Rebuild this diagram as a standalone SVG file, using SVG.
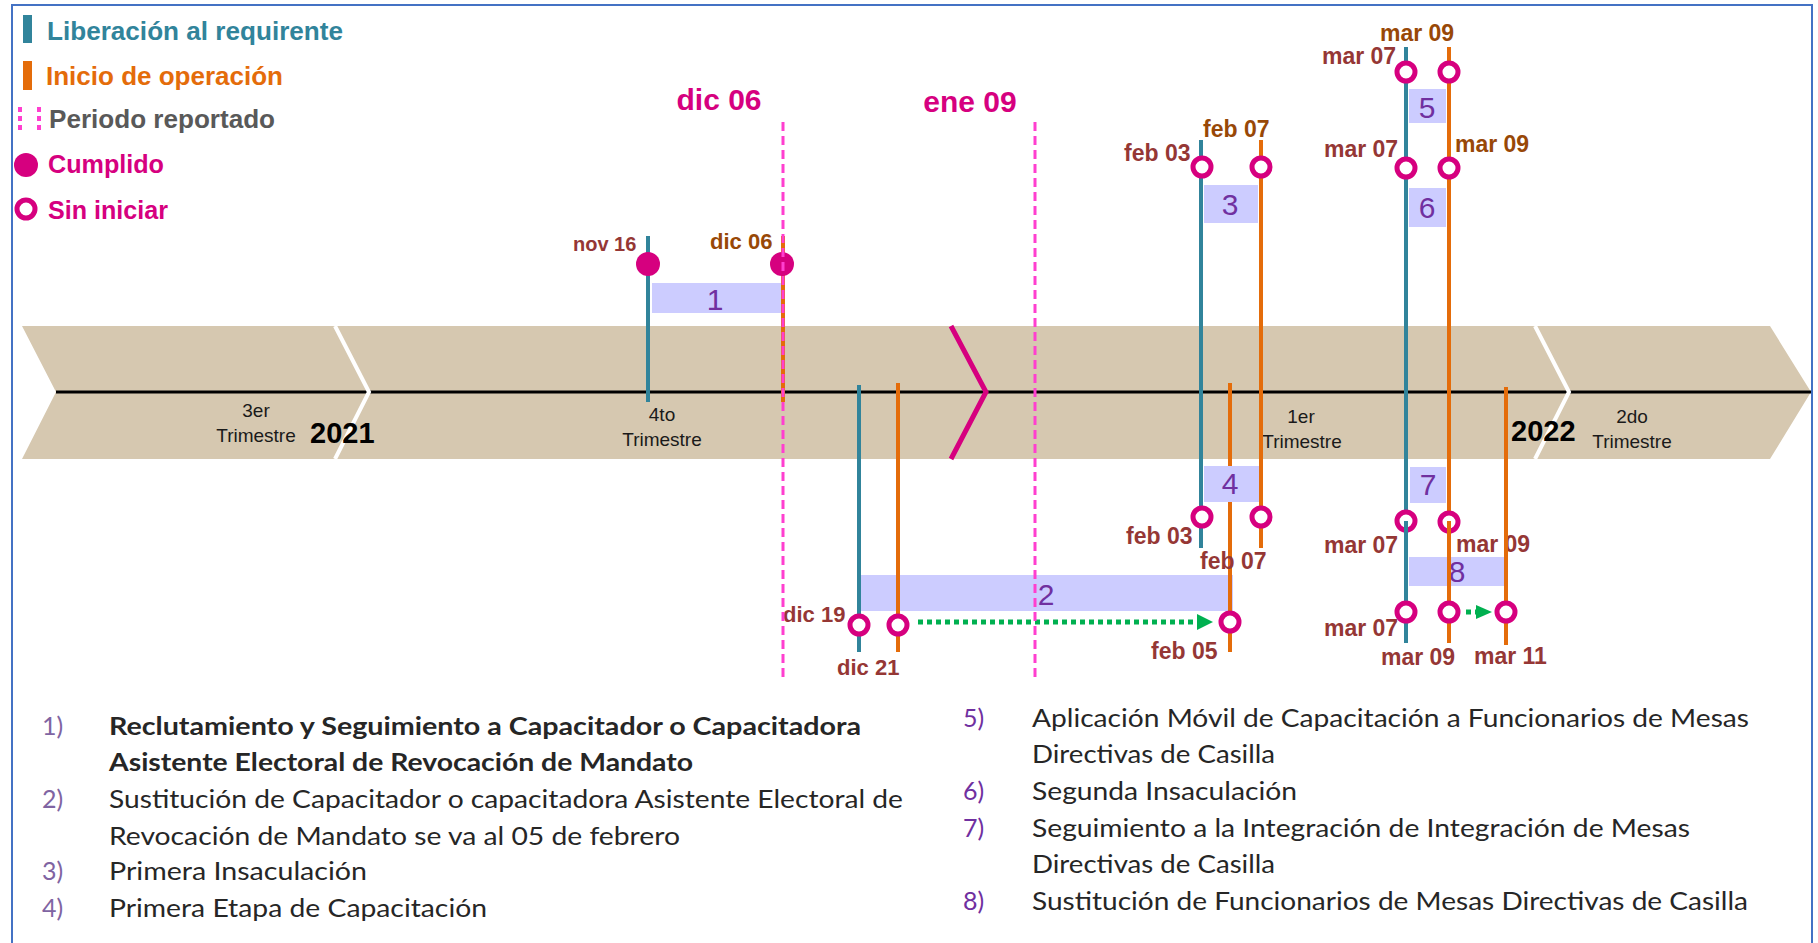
<svg xmlns="http://www.w3.org/2000/svg" width="1818" height="943" viewBox="0 0 1818 943">
<defs>
<style>
.lbl{font-family:"Liberation Sans",Arial,sans-serif;font-weight:bold;font-size:23px}
.rb{fill:#953735}
.ob{fill:#984807}
.teal{stroke:#31849B;stroke-width:4}
.orng{stroke:#E46C0A;stroke-width:4}
.open{fill:#fff;stroke:#D6007F;stroke-width:5}
.full{fill:#D6007F}
.bar{fill:#CCCCFF}
.num{font-family:"Liberation Sans",Arial,sans-serif;font-size:30px;fill:#7030A0;text-anchor:middle}
.per{stroke:#FF3FCF;stroke-width:3;stroke-dasharray:9 5;fill:none}
.tri{font-family:"Liberation Sans",Arial,sans-serif;font-size:19px;fill:#1a1a1a;text-anchor:middle}
.yr{font-family:"Liberation Sans",Arial,sans-serif;font-size:29px;font-weight:bold;fill:#000}
.leg{font-family:"Liberation Sans",Arial,sans-serif;font-weight:bold;font-size:25px}
.big{font-family:"Liberation Sans",Arial,sans-serif;font-weight:bold;font-size:30px;fill:#D6007F;text-anchor:middle}
.desc{font-family:Lato,"Liberation Sans",sans-serif;font-size:25px;fill:#262626}
.dn{font-family:Lato,"Liberation Sans",sans-serif;font-size:25px}
.dot{stroke:#00B050;stroke-width:5;stroke-dasharray:5 4;fill:none}
</style>
</defs>
<rect width="1818" height="943" fill="#fff"/>
<path d="M12,943 V5 H1812 V943" fill="none" stroke="#4472C4" stroke-width="2"/>

<g id="legend">
  <rect x="23" y="15" width="9" height="28" fill="#31849B"/>
  <text class="leg" x="47" y="40" fill="#31849B" textLength="296" lengthAdjust="spacingAndGlyphs">Liberación  al requirente</text>
  <rect x="23" y="61" width="9" height="29" fill="#E46C0A"/>
  <text class="leg" x="46" y="85" fill="#E46C0A" textLength="237" lengthAdjust="spacingAndGlyphs">Inicio  de operación</text>
  <line x1="20" y1="107" x2="20" y2="131" stroke="#FF3FCF" stroke-width="4" stroke-dasharray="5 4"/>
  <line x1="39" y1="107" x2="39" y2="131" stroke="#FF3FCF" stroke-width="4" stroke-dasharray="5 4"/>
  <text class="leg" x="49" y="128" fill="#595959" textLength="226" lengthAdjust="spacingAndGlyphs">Periodo reportado</text>
  <circle cx="26" cy="165" r="12" class="full"/>
  <text class="leg" x="48" y="173" fill="#D6007F" textLength="116" lengthAdjust="spacingAndGlyphs">Cumplido</text>
  <circle cx="26" cy="209" r="9" class="open"/>
  <text class="leg" x="48" y="219" fill="#D6007F" textLength="120" lengthAdjust="spacingAndGlyphs">Sin iniciar</text>
</g>

<g id="timeline">
  <polygon points="22,326 1770,326 1811,392 1770,459 22,459 56,392" fill="#D6C8B0"/>
  <line x1="56" y1="392" x2="1811" y2="392" stroke="#000" stroke-width="3"/>
  <polyline points="335,326 369,392 335,459" fill="none" stroke="#fff" stroke-width="4"/>
  <polyline points="1535,326 1569,392 1535,459" fill="none" stroke="#fff" stroke-width="4"/>
  <polyline points="951,326 986,392 951,459" fill="none" stroke="#D6007F" stroke-width="5"/>
  <text class="tri" x="256" y="417">3er</text>
  <text class="tri" x="256" y="442">Trimestre</text>
  <text class="yr" x="310" y="443">2021</text>
  <text class="tri" x="662" y="421">4to</text>
  <text class="tri" x="662" y="446">Trimestre</text>
  <text class="tri" x="1301" y="423">1er</text>
  <text class="tri" x="1302" y="448">Trimestre</text>
  <text class="yr" x="1511" y="441">2022</text>
  <text class="tri" x="1632" y="423">2do</text>
  <text class="tri" x="1632" y="448">Trimestre</text>
</g>

<g id="event1">
  <rect class="bar" x="652" y="283" width="129" height="30"/>
  <text class="num" x="715" y="310">1</text>
  <line class="teal" x1="648" y1="236" x2="648" y2="402"/>
  <line class="orng" x1="783" y1="236" x2="783" y2="402"/>
  <circle cx="648" cy="264" r="12" class="full"/>
  <circle cx="782" cy="264" r="12" class="full"/>
  <text class="lbl rb" x="573" y="251" style="font-size:20px">nov 16</text>
  <text class="lbl ob" x="710" y="249" style="font-size:22px">dic 06</text>
</g>

<g id="event2">
  <rect class="bar" x="861" y="575" width="372" height="36"/>
  <text class="num" x="1046" y="605">2</text>
  <line class="teal" x1="859" y1="385" x2="859" y2="652"/>
  <line class="orng" x1="898" y1="383" x2="898" y2="652"/>
  <line class="orng" x1="1230" y1="383" x2="1230" y2="652"/>
  <circle cx="859" cy="625" r="9" class="open"/>
  <circle cx="898" cy="625" r="9" class="open"/>
  <circle cx="1230" cy="622" r="9" class="open"/>
  <text class="lbl rb" x="783" y="622" style="font-size:22px">dic 19</text>
  <text class="lbl rb" x="837" y="675" style="font-size:22px">dic 21</text>
  <text class="lbl rb" x="1151" y="659">feb 05</text>
</g>

<g id="event3">
  <rect class="bar" x="1204" y="185" width="54" height="38"/>
  <text class="num" x="1230" y="215">3</text>
  <line class="teal" x1="1201" y1="140" x2="1201" y2="392"/>
  <line class="orng" x1="1261" y1="140" x2="1261" y2="392"/>
  <circle cx="1202" cy="167" r="9" class="open"/>
  <circle cx="1261" cy="167" r="9" class="open"/>
  <text class="lbl rb" x="1124" y="161">feb 03</text>
  <text class="lbl ob" x="1203" y="137">feb 07</text>
</g>

<g id="event4">
  <rect class="bar" x="1204" y="466" width="55" height="36"/>
  <text class="num" x="1230" y="494">4</text>
  <line class="teal" x1="1201" y1="390" x2="1201" y2="548"/>
  <line class="orng" x1="1261" y1="390" x2="1261" y2="548"/>
  <circle cx="1202" cy="517" r="9" class="open"/>
  <circle cx="1261" cy="517" r="9" class="open"/>
  <text class="lbl rb" x="1126" y="544">feb 03</text>
  <text class="lbl rb" x="1200" y="569">feb 07</text>
</g>

<g id="event5">
  <rect class="bar" x="1409" y="89" width="37" height="34"/>
  <text class="num" x="1427" y="118">5</text>
  <line class="teal" x1="1406" y1="47" x2="1406" y2="170"/>
  <line class="orng" x1="1449" y1="47" x2="1449" y2="170"/>
  <circle cx="1406" cy="72" r="9" class="open"/>
  <circle cx="1449" cy="72" r="9" class="open"/>
  <text class="lbl ob" x="1380" y="41">mar 09</text>
  <text class="lbl rb" x="1322" y="64">mar 07</text>
</g>

<g id="event6">
  <rect class="bar" x="1409" y="188" width="37" height="39"/>
  <text class="num" x="1427" y="218">6</text>
  <line class="teal" x1="1406" y1="168" x2="1406" y2="394"/>
  <line class="orng" x1="1449" y1="168" x2="1449" y2="394"/>
  <circle cx="1406" cy="168" r="9" class="open"/>
  <circle cx="1449" cy="168" r="9" class="open"/>
  <text class="lbl rb" x="1324" y="157">mar 07</text>
  <text class="lbl ob" x="1455" y="152">mar 09</text>
</g>

<g id="event7">
  <rect class="bar" x="1410" y="467" width="36" height="36"/>
  <text class="num" x="1428" y="495">7</text>
  <line class="teal" x1="1406" y1="390" x2="1406" y2="524"/>
  <line class="orng" x1="1449" y1="390" x2="1449" y2="524"/>
  <circle cx="1406" cy="521" r="9" class="open"/>
  <circle cx="1449" cy="522" r="9" class="open"/>
  <text class="lbl rb" x="1324" y="553">mar 07</text>
  <text class="lbl rb" x="1456" y="552">mar 09</text>
</g>

<g id="event8">
  <rect class="bar" x="1409" y="557" width="95" height="29"/>
  <text class="num" x="1457" y="582">8</text>
  <line class="teal" x1="1406" y1="521" x2="1406" y2="643"/>
  <line class="orng" x1="1449" y1="521" x2="1449" y2="643"/>
  <line class="orng" x1="1506" y1="387" x2="1506" y2="645"/>
  <circle cx="1406" cy="612" r="9" class="open"/>
  <circle cx="1449" cy="612" r="9" class="open"/>
  <circle cx="1506" cy="612" r="9" class="open"/>
  <text class="lbl rb" x="1324" y="636">mar 07</text>
  <text class="lbl rb" x="1381" y="665">mar 09</text>
  <text class="lbl rb" x="1474" y="664">mar 11</text>
</g>

<g id="connectors">
  <line class="dot" x1="918" y1="622" x2="1196" y2="622"/>
  <polygon points="1197,614 1213,622 1197,630" fill="#00B050"/>
  <line class="dot" x1="1466" y1="612" x2="1476" y2="612"/>
  <polygon points="1476,605 1492,612 1476,619" fill="#00B050"/>
</g>

<g id="period">
  <line class="per" x1="783" y1="122" x2="783" y2="680"/>
  <line class="per" x1="1035" y1="122" x2="1035" y2="680"/>
  <text class="big" x="719" y="110">dic 06</text>
  <text class="big" x="970" y="112">ene 09</text>
</g>

<g id="descriptions">
  <text class="dn" x="42" y="735" fill="#8064A2">1)</text>
  <text class="desc" x="109" y="735" font-weight="bold" textLength="752" lengthAdjust="spacingAndGlyphs">Reclutamiento y Seguimiento a  Capacitador o Capacitadora</text>
  <text class="desc" x="109" y="771" font-weight="bold" textLength="584" lengthAdjust="spacingAndGlyphs">Asistente Electoral de Revocación de Mandato</text>
  <text class="dn" x="42" y="808" fill="#8064A2">2)</text>
  <text class="desc" x="109" y="808" textLength="794" lengthAdjust="spacingAndGlyphs">Sustitución de Capacitador o capacitadora Asistente Electoral de</text>
  <text class="desc" x="109" y="845" textLength="571" lengthAdjust="spacingAndGlyphs">Revocación de Mandato se va al 05 de febrero</text>
  <text class="dn" x="42" y="880" fill="#8064A2">3)</text>
  <text class="desc" x="109" y="880" textLength="258" lengthAdjust="spacingAndGlyphs">Primera Insaculación</text>
  <text class="dn" x="42" y="917" fill="#8064A2">4)</text>
  <text class="desc" x="109" y="917" textLength="378" lengthAdjust="spacingAndGlyphs">Primera Etapa de Capacitación</text>

  <text class="dn" x="963" y="727" fill="#7030A0">5)</text>
  <text class="desc" x="1032" y="727" textLength="717" lengthAdjust="spacingAndGlyphs">Aplicación Móvil de Capacitación a Funcionarios de Mesas</text>
  <text class="desc" x="1032" y="763" textLength="243" lengthAdjust="spacingAndGlyphs">Directivas de Casilla</text>
  <text class="dn" x="963" y="800" fill="#7030A0">6)</text>
  <text class="desc" x="1032" y="800" textLength="265" lengthAdjust="spacingAndGlyphs">Segunda Insaculación</text>
  <text class="dn" x="963" y="837" fill="#7030A0">7)</text>
  <text class="desc" x="1032" y="837" textLength="658" lengthAdjust="spacingAndGlyphs">Seguimiento a la Integración de Integración de Mesas</text>
  <text class="desc" x="1032" y="873" textLength="243" lengthAdjust="spacingAndGlyphs">Directivas de Casilla</text>
  <text class="dn" x="963" y="910" fill="#7030A0">8)</text>
  <text class="desc" x="1032" y="910" textLength="716" lengthAdjust="spacingAndGlyphs">Sustitución de Funcionarios de Mesas Directivas de Casilla</text>
</g>
</svg>
